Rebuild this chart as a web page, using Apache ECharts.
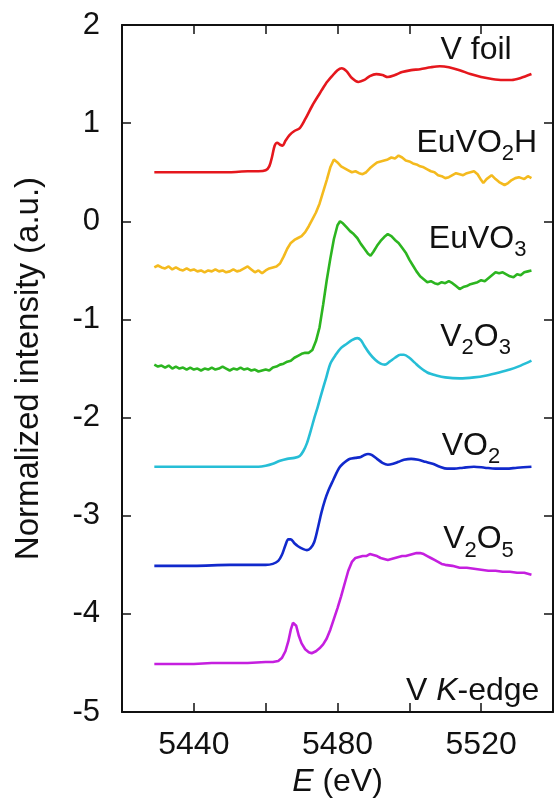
<!DOCTYPE html>
<html>
<head>
<meta charset="utf-8">
<script src="https://cdn.jsdelivr.net/npm/echarts@6/dist/echarts.min.js"></script>
<style>
html,body{margin:0;padding:0;background:#fff;}
#chart{width:556px;height:803px;}
</style>
</head>
<body>
<div id="chart"></div>
<script>
// ---- data (energy in eV, normalized intensity with offsets) ----
const xTickLabels = [5440, 5480, 5520];
const yTickLabels = [-5, -4, -3, -2, -1, 0, 1, 2];

const vFoil = [[5429,0.50],[5435,0.50],[5440,0.50],[5445,0.50],[5450,0.50],[5455,0.51],[5458,0.51],[5460,0.52],[5461,0.56],[5461.8,0.66],[5462.5,0.77],[5463.2,0.80],[5464,0.78],[5464.7,0.77],[5465.5,0.82],[5466.7,0.88],[5468,0.92],[5469.5,0.95],[5471,1.04],[5473,1.18],[5475,1.30],[5476.7,1.40],[5478.5,1.48],[5480,1.54],[5481.2,1.56],[5482.5,1.53],[5484,1.46],[5485.8,1.42],[5487.5,1.44],[5489,1.48],[5490.8,1.50],[5492.5,1.49],[5494,1.47],[5496,1.49],[5498,1.52],[5500.5,1.54],[5503,1.55],[5506,1.57],[5508.5,1.58],[5511,1.57],[5514,1.54],[5517,1.50],[5520,1.47],[5523,1.45],[5526,1.44],[5528.5,1.44],[5531,1.46],[5534,1.50]];

const euVO2H = [[5429,-0.47],[5430,-0.45],[5431,-0.47],[5432,-0.48],[5433,-0.46],[5434,-0.49],[5435,-0.47],[5436,-0.49],[5437,-0.50],[5438,-0.48],[5439,-0.50],[5440,-0.49],[5441,-0.51],[5442,-0.50],[5443,-0.52],[5444,-0.50],[5445,-0.51],[5446,-0.49],[5447,-0.51],[5448,-0.50],[5449,-0.52],[5450,-0.51],[5451,-0.49],[5452,-0.51],[5453,-0.50],[5454,-0.48],[5455,-0.46],[5456,-0.49],[5457,-0.52],[5458,-0.50],[5459,-0.53],[5460,-0.50],[5461,-0.48],[5462,-0.47],[5463,-0.46],[5464,-0.43],[5465,-0.36],[5466,-0.28],[5467,-0.22],[5468,-0.19],[5469,-0.17],[5470,-0.15],[5471,-0.11],[5472,-0.05],[5473,0.02],[5474,0.09],[5475,0.18],[5476,0.30],[5477,0.42],[5478,0.55],[5479,0.63],[5480,0.60],[5481,0.56],[5482,0.54],[5483,0.52],[5484,0.50],[5485,0.51],[5486,0.49],[5487,0.48],[5488,0.50],[5489,0.54],[5490,0.57],[5491,0.60],[5492,0.61],[5493,0.62],[5494,0.63],[5495,0.65],[5496,0.64],[5497,0.67],[5498,0.65],[5499,0.62],[5500,0.61],[5501,0.59],[5502,0.58],[5503,0.56],[5504,0.55],[5505,0.53],[5506,0.51],[5507,0.50],[5508,0.47],[5509,0.46],[5510,0.44],[5511,0.45],[5512,0.47],[5513,0.49],[5514,0.48],[5515,0.47],[5516,0.49],[5517,0.50],[5518,0.51],[5519,0.48],[5520,0.42],[5520.6,0.39],[5521.5,0.43],[5522.9,0.47],[5524,0.43],[5525,0.40],[5526.5,0.37],[5527.5,0.39],[5528.5,0.42],[5529.5,0.44],[5530.5,0.45],[5531,0.46],[5532,0.43],[5533,0.46],[5534,0.44]];

const euVO3 = [[5429,-1.46],[5430,-1.48],[5431,-1.47],[5432,-1.49],[5433,-1.47],[5434,-1.50],[5435,-1.48],[5436,-1.50],[5437,-1.49],[5438,-1.51],[5439,-1.49],[5440,-1.51],[5441,-1.50],[5442,-1.52],[5443,-1.50],[5444,-1.51],[5445,-1.49],[5446,-1.51],[5447,-1.50],[5448,-1.48],[5449,-1.50],[5450,-1.52],[5451,-1.50],[5452,-1.51],[5453,-1.49],[5454,-1.51],[5455,-1.50],[5456,-1.52],[5457,-1.51],[5458,-1.53],[5459,-1.52],[5460,-1.51],[5461,-1.52],[5462,-1.49],[5463,-1.48],[5464,-1.46],[5465,-1.45],[5466,-1.43],[5467,-1.42],[5468,-1.39],[5469,-1.37],[5470,-1.35],[5471,-1.34],[5472,-1.34],[5473,-1.31],[5474,-1.22],[5475,-1.08],[5476,-0.85],[5477,-0.60],[5478,-0.38],[5479,-0.18],[5480,-0.04],[5480.7,0.00],[5481.5,-0.02],[5482.5,-0.06],[5483.5,-0.10],[5484.5,-0.13],[5485.5,-0.17],[5486.5,-0.23],[5487.5,-0.28],[5488.5,-0.33],[5489.2,-0.35],[5490,-0.31],[5491,-0.25],[5492,-0.20],[5493,-0.16],[5494,-0.13],[5495,-0.15],[5496,-0.19],[5497,-0.22],[5498,-0.27],[5499,-0.32],[5500,-0.39],[5501,-0.45],[5502,-0.51],[5503,-0.56],[5504,-0.59],[5505,-0.62],[5506,-0.61],[5507,-0.63],[5508,-0.64],[5509,-0.62],[5510,-0.63],[5511,-0.61],[5512,-0.63],[5513,-0.66],[5514,-0.69],[5515,-0.67],[5516,-0.66],[5517,-0.64],[5518,-0.63],[5519,-0.62],[5520,-0.60],[5521,-0.61],[5522,-0.58],[5523,-0.55],[5524,-0.52],[5525,-0.53],[5526,-0.52],[5527,-0.54],[5528,-0.56],[5529,-0.57],[5530,-0.54],[5531,-0.55],[5532,-0.52],[5533,-0.51],[5534,-0.50]];

const v2O3 = [[5429,-2.50],[5440,-2.50],[5450,-2.50],[5455,-2.50],[5458,-2.50],[5460,-2.49],[5462,-2.47],[5464,-2.44],[5466,-2.42],[5468,-2.41],[5469.5,-2.39],[5470.5,-2.34],[5471.5,-2.26],[5472.5,-2.14],[5473.5,-2.01],[5474.5,-1.89],[5475.5,-1.76],[5476.8,-1.60],[5478,-1.45],[5479.5,-1.36],[5481,-1.29],[5482.5,-1.25],[5484,-1.21],[5485.5,-1.19],[5486.5,-1.21],[5487.5,-1.27],[5489,-1.35],[5490.5,-1.41],[5492,-1.45],[5493.2,-1.46],[5494.5,-1.43],[5496,-1.39],[5497.5,-1.36],[5498.5,-1.36],[5500,-1.39],[5501.5,-1.44],[5503,-1.49],[5505,-1.54],[5507.5,-1.57],[5510,-1.59],[5514,-1.60],[5518,-1.59],[5521.5,-1.57],[5525,-1.54],[5528,-1.51],[5531,-1.47],[5534,-1.42]];

const vO2 = [[5429,-3.51],[5440,-3.51],[5450,-3.50],[5455,-3.50],[5460,-3.50],[5462,-3.49],[5463.5,-3.46],[5464.5,-3.40],[5465.5,-3.30],[5466.3,-3.24],[5467,-3.24],[5468,-3.28],[5469,-3.31],[5470.5,-3.34],[5471.5,-3.35],[5472.5,-3.33],[5473.5,-3.27],[5474.5,-3.13],[5475.5,-2.97],[5476.5,-2.84],[5477.5,-2.74],[5478.5,-2.66],[5479.5,-2.58],[5480.5,-2.51],[5481.5,-2.47],[5482.5,-2.44],[5483.5,-2.42],[5485,-2.41],[5486.5,-2.40],[5487.5,-2.38],[5488.5,-2.37],[5489.5,-2.38],[5491,-2.42],[5492.5,-2.46],[5494,-2.48],[5495.5,-2.47],[5497,-2.45],[5498.5,-2.43],[5500.5,-2.42],[5502.5,-2.43],[5504.5,-2.45],[5506.5,-2.47],[5508.5,-2.50],[5510.5,-2.52],[5512.5,-2.52],[5515,-2.51],[5518,-2.50],[5521,-2.51],[5524,-2.52],[5527,-2.52],[5530,-2.51],[5534,-2.50]];

const v2O5 = [[5429,-4.51],[5435,-4.51],[5440,-4.51],[5445,-4.50],[5450,-4.50],[5455,-4.50],[5460,-4.49],[5462,-4.49],[5463.5,-4.48],[5464.5,-4.45],[5465.5,-4.38],[5466.3,-4.28],[5467,-4.16],[5467.6,-4.09],[5468,-4.08],[5468.5,-4.12],[5469.2,-4.22],[5470,-4.30],[5471,-4.36],[5472,-4.39],[5472.8,-4.40],[5474,-4.38],[5475,-4.35],[5476,-4.31],[5477,-4.25],[5478,-4.16],[5479,-4.05],[5480,-3.94],[5481,-3.82],[5482,-3.69],[5483,-3.56],[5484,-3.47],[5485,-3.43],[5486,-3.42],[5487,-3.41],[5488,-3.41],[5489,-3.39],[5490,-3.40],[5491,-3.41],[5492,-3.43],[5493,-3.44],[5494,-3.45],[5495,-3.44],[5496,-3.43],[5497,-3.42],[5498,-3.41],[5499,-3.41],[5500,-3.40],[5501,-3.39],[5502,-3.38],[5503,-3.38],[5504,-3.39],[5505,-3.41],[5506,-3.43],[5507,-3.45],[5508,-3.47],[5509,-3.49],[5510,-3.50],[5512,-3.51],[5514,-3.53],[5516,-3.53],[5518,-3.54],[5520,-3.55],[5522,-3.56],[5524,-3.56],[5526,-3.57],[5528,-3.57],[5530,-3.58],[5532,-3.58],[5534,-3.60]];

const seriesNames = ['V foil', 'EuVO2H', 'EuVO3', 'V2O3', 'VO2', 'V2O5'];
const seriesData = [vFoil, euVO2H, euVO3, v2O3, vO2, v2O5];

// ---- presentation ----
const FONT = '"Liberation Sans", Arial, Helvetica, sans-serif';
const colors = ['#e5171d', '#f4ba1e', '#2cb520', '#26bed6', '#1129cc', '#c51fdf'];
const smoothFlags = [0.3, false, false, 0.3, 0.3, false];

// label text (rich) and anchor [E, intensity] = right edge, cap centre
const labelTexts = ['{n|V foil}', '{n|EuVO}{s|2}{n|H}', '{n|EuVO}{s|3}', '{n|V}{s|2}{n|O}{s|3}', '{n|VO}{s|2}', '{n|V}{s|2}{n|O}{s|5}', '{n|V }{i|K}{n|-edge}'];
const labelAnchors = [[5528.5,1.746],[5535.6,0.801],[5532.6,-0.184],[5528.3,-1.180],[5525.3,-2.287],[5529.1,-3.242],[5536.2,-4.784]];

const chart = echarts.init(document.getElementById('chart'), null, {renderer: 'canvas'});

const axisLineStyle = {color: '#111', width: 2};
const tickStyle = {show: true, inside: true, length: 9, lineStyle: {color: '#111', width: 1.5}};

const option = {
  backgroundColor: '#fff',
  animation: false,
  grid: {left: 122, top: 25, width: 439, height: 689, containLabel: false},
  xAxis: [{
    type: 'value', min: 5420, max: 5540, interval: 20, position: 'bottom',
    axisLine: {show: true, onZero: false, lineStyle: axisLineStyle},
    axisTick: tickStyle,
    splitLine: {show: false},
    axisLabel: {
      fontSize: 32, fontFamily: FONT, color: '#111', margin: 17,
      formatter: v => (xTickLabels.indexOf(v) >= 0 ? String(v) : '')
    },
    name: '{i|E} (eV)', nameLocation: 'middle', nameGap: 52,
    nameTextStyle: {fontSize: 32, fontFamily: FONT, color: '#111',
      rich: {i: {fontStyle: 'italic', fontSize: 32, fontFamily: FONT, color: '#111'}}}
  }, {
    type: 'value', min: 5420, max: 5540, interval: 20, position: 'top',
    axisLine: {show: true, onZero: false, lineStyle: axisLineStyle},
    axisTick: tickStyle, axisLabel: {show: false}, splitLine: {show: false}
  }],
  yAxis: [{
    type: 'value', min: -5, max: 2, interval: 1, position: 'left',
    axisLine: {show: true, onZero: false, lineStyle: axisLineStyle},
    axisTick: tickStyle,
    splitLine: {show: false},
    axisLabel: {fontSize: 31, fontFamily: FONT, color: '#111', margin: 22,
      formatter: v => (yTickLabels.indexOf(v) >= 0 ? String(v) : '')},
    name: 'Normalized intensity (a.u.)', nameLocation: 'middle', nameGap: 77, nameRotate: 90,
    nameTextStyle: {fontSize: 33, fontFamily: FONT, color: '#111'}
  }, {
    type: 'value', min: -5, max: 2, interval: 1, position: 'right',
    axisLine: {show: true, onZero: false, lineStyle: axisLineStyle},
    axisTick: tickStyle, axisLabel: {show: false}, splitLine: {show: false}
  }],
  series: seriesData.map((d, i) => ({
    name: seriesNames[i], type: 'line', data: d, xAxisIndex: 0, yAxisIndex: 0,
    showSymbol: false, symbol: 'none', smooth: smoothFlags[i],
    lineStyle: {color: colors[i], width: 2.6}, z: 3
  }))
};
chart.setOption(option);

const rich = {
  n: {fontSize: 32, fontFamily: FONT, fill: '#111', color: '#111', lineHeight: 44},
  s: {fontSize: 22, fontFamily: FONT, fill: '#111', color: '#111', verticalAlign: 'bottom'},
  i: {fontSize: 32, fontFamily: FONT, fill: '#111', color: '#111', fontStyle: 'italic', lineHeight: 44}
};
const graphics = labelTexts.map((t, i) => {
  const p = chart.convertToPixel({gridIndex: 0}, labelAnchors[i]);
  return {
    type: 'text', x: p[0], y: p[1], z: 10,
    style: {text: t, rich: rich, align: 'right', verticalAlign: 'middle', fill: '#111', font: '32px ' + FONT}
  };
});
chart.setOption({graphic: graphics});
</script>
</body>
</html>
